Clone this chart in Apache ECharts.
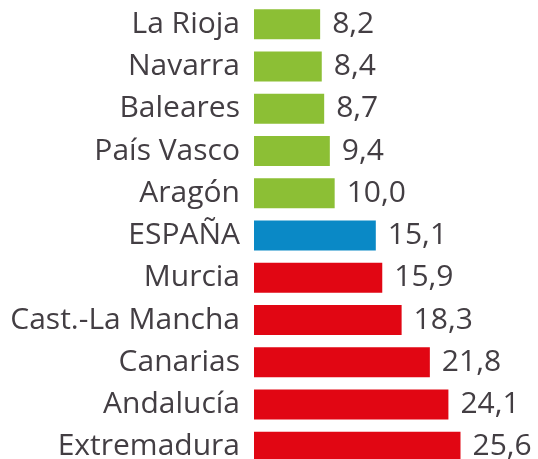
<!DOCTYPE html>
<html><head><meta charset="utf-8">
<script src="https://cdn.jsdelivr.net/npm/echarts@6/dist/echarts.min.js"></script>
<style>html,body{margin:0;padding:0;background:#fff}#c{width:538px;height:459px}</style>
</head><body><div id="c"></div>
<script>
const categories = ['La Rioja','Navarra','Baleares','País Vasco','Aragón','ESPAÑA','Murcia','Cast.-La Mancha','Canarias','Andalucía','Extremadura'];
const values = [8.2, 8.4, 8.7, 9.4, 10.0, 15.1, 15.9, 18.3, 21.8, 24.1, 25.6];
const nationalLabel = 'ESPAÑA';

const GREEN = '#8cbf35', BLUE = '#0a89c6', RED = '#e10613', TEXT = '#433e43';
const FONT = '"Open Sans"';
const nat = values[categories.indexOf(nationalLabel)];
const data = values.map((v, i) => ({
  value: v,
  itemStyle: { color: categories[i] === nationalLabel ? BLUE : (v < nat ? GREEN : RED) }
}));

const chart = echarts.init(document.getElementById('c'), null, {renderer: 'canvas'});
chart.setOption({
  animation: false,
  grid: { left: 254, top: 3, height: 465, width: 242, outerBoundsMode: 'none', containLabel: false },
  xAxis: { type: 'value', min: 0, max: 30, show: false },
  yAxis: {
    type: 'category', data: categories, inverse: true,
    axisLine: { show: false }, axisTick: { show: false },
    axisLabel: { color: TEXT, fontSize: 30, fontFamily: FONT, margin: 14 }
  },
  series: [{
    type: 'bar', data: data, barWidth: 30,
    label: {
      show: true, position: 'right', distance: 12,
      color: TEXT, fontSize: 30, fontFamily: FONT,
      formatter: p => p.value.toFixed(1).replace('.', ',')
    }
  }]
});
</script></body></html>
